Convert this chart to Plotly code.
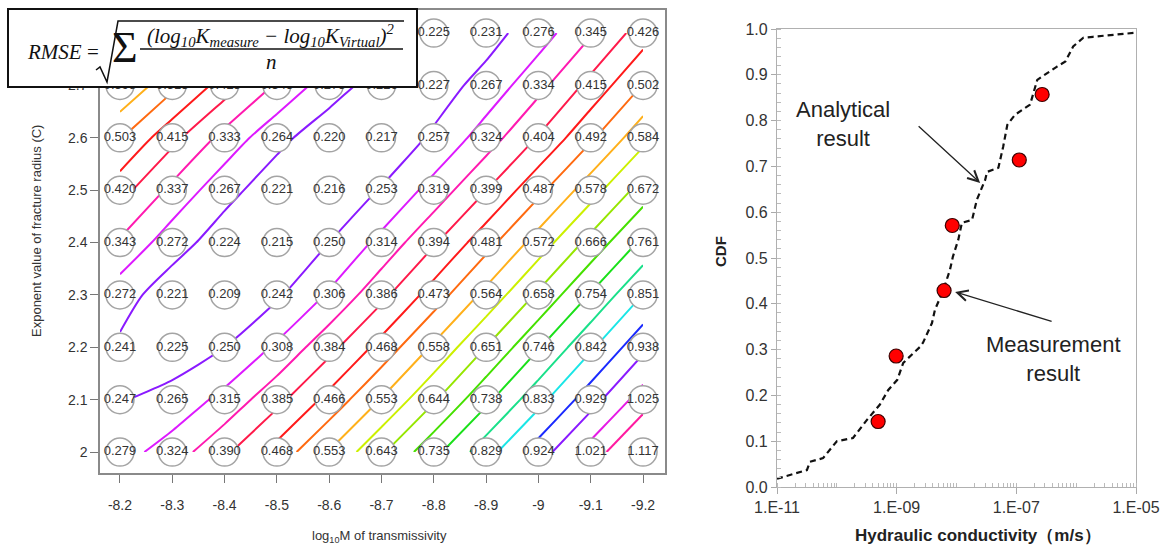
import plotly.graph_objects as go

W, H = 1174, 549


def px(x):
    return x / W


def py(y):
    return 1 - y / H


# ---------------- RMSE grid (left panel) ----------------
log_m = [-8.2, -8.3, -8.4, -8.5, -8.6, -8.7, -8.8, -8.9, -9.0, -9.1, -9.2]
log_m_labels = ["-8.2", "-8.3", "-8.4", "-8.5", "-8.6", "-8.7", "-8.8", "-8.9", "-9", "-9.1", "-9.2"]
exponent_c = [2.0, 2.1, 2.2, 2.3, 2.4, 2.5, 2.6, 2.7, 2.8]
exponent_labels = ["2", "2.1", "2.2", "2.3", "2.4", "2.5", "2.6", "2.7", "2.8"]

rmse_c20 = [0.279, 0.324, 0.390, 0.468, 0.553, 0.643, 0.735, 0.829, 0.924, 1.021, 1.117]
rmse_c21 = [0.247, 0.265, 0.315, 0.385, 0.466, 0.553, 0.644, 0.738, 0.833, 0.929, 1.025]
rmse_c22 = [0.241, 0.225, 0.250, 0.308, 0.384, 0.468, 0.558, 0.651, 0.746, 0.842, 0.938]
rmse_c23 = [0.272, 0.221, 0.209, 0.242, 0.306, 0.386, 0.473, 0.564, 0.658, 0.754, 0.851]
rmse_c24 = [0.343, 0.272, 0.224, 0.215, 0.250, 0.314, 0.394, 0.481, 0.572, 0.666, 0.761]
rmse_c25 = [0.420, 0.337, 0.267, 0.221, 0.216, 0.253, 0.319, 0.399, 0.487, 0.578, 0.672]
rmse_c26 = [0.503, 0.415, 0.333, 0.264, 0.220, 0.217, 0.257, 0.324, 0.404, 0.492, 0.584]
rmse_c27 = [0.598, 0.513, 0.425, 0.343, 0.273, 0.226, 0.227, 0.267, 0.334, 0.415, 0.502]
rmse_c28 = [0.700, 0.610, 0.523, 0.435, 0.352, 0.281, 0.225, 0.231, 0.276, 0.345, 0.426]
rmse = [rmse_c20, rmse_c21, rmse_c22, rmse_c23, rmse_c24, rmse_c25, rmse_c26, rmse_c27, rmse_c28]

contour_start, contour_end, contour_step = 0.25, 1.10, 0.05
contour_colors = [
    "#8a1aff", "#dd1aff", "#ff1ab0", "#ff1a4a", "#ff1a1a", "#ff6a10",
    "#ffb01a", "#ccf000", "#96e600", "#46e000", "#1ae01a", "#1ae08a",
    "#1ae6e6", "#1a2aff", "#8a1aff", "#e61ae6", "#ff1aa0", "#ff1a60",
]

# ---------------- CDF (right panel) ----------------
cdf_log10_k = [-11.0, -10.5, -10.45, -10.23, -10.0, -9.73, -9.5, -9.28, -9.14, -8.99,
               -8.89, -8.61, -8.56, -8.41, -8.36, -8.22, -8.11, -8.06, -7.97, -7.91,
               -7.74, -7.66, -7.52, -7.49, -7.30, -7.22, -7.15, -7.02, -6.77, -6.69,
               -6.65, -6.32, -6.18, -6.05, -5.88, -5.72, -5.0]
cdf_value = [0.018, 0.037, 0.055, 0.063, 0.100, 0.107, 0.146, 0.180, 0.212, 0.234,
             0.271, 0.306, 0.315, 0.358, 0.387, 0.430, 0.474, 0.503, 0.540, 0.577,
             0.583, 0.627, 0.671, 0.688, 0.697, 0.743, 0.791, 0.813, 0.835, 0.872,
             0.889, 0.918, 0.929, 0.962, 0.981, 0.983, 0.992]

meas_k = [4.9e-10, 9.8e-10, 6.2e-9, 8.5e-9, 1.12e-7, 2.7e-7]
meas_cdf = [0.143, 0.286, 0.429, 0.571, 0.714, 0.857]

k_ticks = [1e-11, 1e-9, 1e-7, 1e-5]
k_tick_labels = ["1.E-11", "1.E-09", "1.E-07", "1.E-05"]

SANS = "Liberation Sans, Arial, sans-serif"
SERIF = "Liberation Serif, Times New Roman, serif"
TXT = "#333333"

fig = go.Figure()

n_levels = len(contour_colors)
colorscale = [[i / (n_levels - 1), c] for i, c in enumerate(contour_colors)]

fig.add_trace(go.Contour(
    x=log_m, y=exponent_c, z=rmse,
    xaxis="x", yaxis="y",
    contours=dict(start=contour_start, end=contour_end, size=contour_step, coloring="lines"),
    line=dict(width=2, smoothing=0.7),
    colorscale=colorscale, zmin=contour_start, zmax=contour_end,
    showscale=False, hoverinfo="skip",
))

cx, cy, ct = [], [], []
for j, c in enumerate(exponent_c):
    for i, m in enumerate(log_m):
        cx.append(m)
        cy.append(c)
        ct.append(f"{rmse[j][i]:.3f}")

fig.add_trace(go.Scatter(
    x=cx, y=cy, text=ct, mode="markers+text",
    xaxis="x", yaxis="y",
    marker=dict(size=28, color="white", line=dict(color="#a4a4a4", width=1.5)),
    textposition="middle center",
    textfont=dict(family=SANS, size=13, color=TXT),
    cliponaxis=False, showlegend=False, hoverinfo="skip",
))

fig.add_trace(go.Scatter(
    x=[10 ** v for v in cdf_log10_k], y=cdf_value,
    xaxis="x2", yaxis="y2", mode="lines",
    line=dict(color="#111111", width=2.2, dash="6px,4px"),
    showlegend=False, hoverinfo="skip",
))

fig.add_trace(go.Scatter(
    x=meas_k, y=meas_cdf, xaxis="x2", yaxis="y2", mode="markers",
    marker=dict(size=14, color="#ff0000", line=dict(color="#3a0000", width=1.2)),
    showlegend=False, hoverinfo="skip", cliponaxis=False,
))


def label(text, x, y, size, color=TXT, family=SANS, angle=0, xanchor="center"):
    return dict(text=text, x=px(x), y=py(y), xref="paper", yref="paper",
                xanchor=xanchor, yanchor="middle", showarrow=False, textangle=angle,
                font=dict(family=family, size=size, color=color))


annotations = [
    # left panel titles
    label("Exponent value of fracture radius (C)", 36, 231, 13, angle=-90),
    label("log<sub>10</sub>M of transmissivity", 380, 536, 13),
    # right panel titles
    label("<b>CDF</b>", 720, 252, 15, color="#222222", angle=-90),
    label("<b>Hydraulic conductivity（m/s）</b>", 978, 535, 17, color="#222222"),
    # right panel call-outs
    label("Analytical<br>result", 843, 124, 22, color="#222222"),
    dict(text="", x=-7.605, y=0.664, xref="x2", yref="y2", showarrow=True,
         ax=-63, ay=-58, arrowhead=5, arrowsize=1.6, arrowwidth=1.3, arrowcolor="#222222"),
    label("Measurement<br>result", 1053, 359, 22, color="#222222"),
    dict(text="", x=-8.023, y=0.426, xref="x2", yref="y2", showarrow=True,
         ax=98, ay=30, arrowhead=5, arrowsize=1.6, arrowwidth=1.3, arrowcolor="#222222"),
    # RMSE formula
    label("<i>RMSE</i> =", 25, 52, 21, color="#111111", family=SERIF, xanchor="left"),
    label("Σ", 125, 48, 44, color="#111111", family=SERIF),
    label("<i>(log<sub>10</sub>K<sub>measure</sub> − log<sub>10</sub>K<sub>Virtual</sub>)<sup>2</sup></i>",
          271, 35, 21, color="#111111", family=SERIF),
    label("<i>n</i>", 271, 62, 21, color="#111111", family=SERIF),
]

shapes = [
    dict(type="rect", xref="paper", yref="paper", x0=px(8), x1=px(417), y0=py(9), y1=py(87),
         fillcolor="white", line=dict(color="#111111", width=2), layer="above"),
    dict(type="line", xref="paper", yref="paper", x0=px(140), x1=px(403), y0=py(49), y1=py(49),
         line=dict(color="#111111", width=1.5), layer="above"),
    dict(type="path", xref="paper", yref="paper",
         path=(f"M {px(96)},{py(70)} L {px(100)},{py(67)} L {px(107)},{py(82)} "
               f"L {px(118)},{py(21)} L {px(404)},{py(21)}"),
         line=dict(color="#111111", width=1.5), layer="above"),
]

fig.update_layout(
    width=W, height=H,
    margin=dict(l=0, r=0, t=0, b=0, pad=0, autoexpand=False),
    paper_bgcolor="white", plot_bgcolor="white",
    showlegend=False,
    annotations=annotations, shapes=shapes,
    xaxis=dict(
        domain=[px(100), px(665)], range=[-8.1618, -9.242], automargin=False,
        tickmode="array", tickvals=log_m, ticktext=log_m_labels,
        ticks="outside", ticklen=8, tickcolor="#777777", tickwidth=1.2,
        showline=True, linecolor="#8a8a8a", linewidth=1.5, mirror=True,
        showgrid=False, zeroline=False, ticklabelstandoff=10,
        tickfont=dict(family=SANS, size=14, color=TXT),
    ),
    yaxis=dict(
        domain=[py(473), py(10)], range=[1.96, 2.844], automargin=False,
        tickmode="array", tickvals=exponent_c, ticktext=exponent_labels,
        ticks="outside", ticklen=8, tickcolor="#777777", tickwidth=1.2,
        showline=True, linecolor="#8a8a8a", linewidth=1.5, mirror=True,
        showgrid=False, zeroline=False,
        tickfont=dict(family=SANS, size=14, color=TXT),
    ),
    xaxis2=dict(
        domain=[px(777), px(1136)], type="log", range=[-11, -5], anchor="y2", automargin=False,
        tickmode="array", tickvals=k_ticks, ticktext=k_tick_labels,
        ticks="outside", ticklen=6, tickcolor="#aaaaaa",
        minor=dict(ticks="inside", ticklen=4, tickcolor="#bbbbbb", dtick="D1", showgrid=False),
        showline=True, linecolor="#b0b0b0", linewidth=1.2, mirror=True,
        showgrid=False, zeroline=False,
        tickfont=dict(family=SANS, size=16, color=TXT),
    ),
    yaxis2=dict(
        domain=[py(487), py(29)], range=[0, 1], anchor="x2", automargin=False,
        dtick=0.1, tickformat=".1f",
        ticks="outside", ticklen=5, tickcolor="#aaaaaa",
        minor=dict(ticks="inside", ticklen=4, tickcolor="#bbbbbb", dtick=0.02, showgrid=False),
        showline=True, linecolor="#b0b0b0", linewidth=1.2, mirror=True,
        showgrid=False, zeroline=False,
        tickfont=dict(family=SANS, size=16, color=TXT),
    ),
)

fig.write_html("out.html")
